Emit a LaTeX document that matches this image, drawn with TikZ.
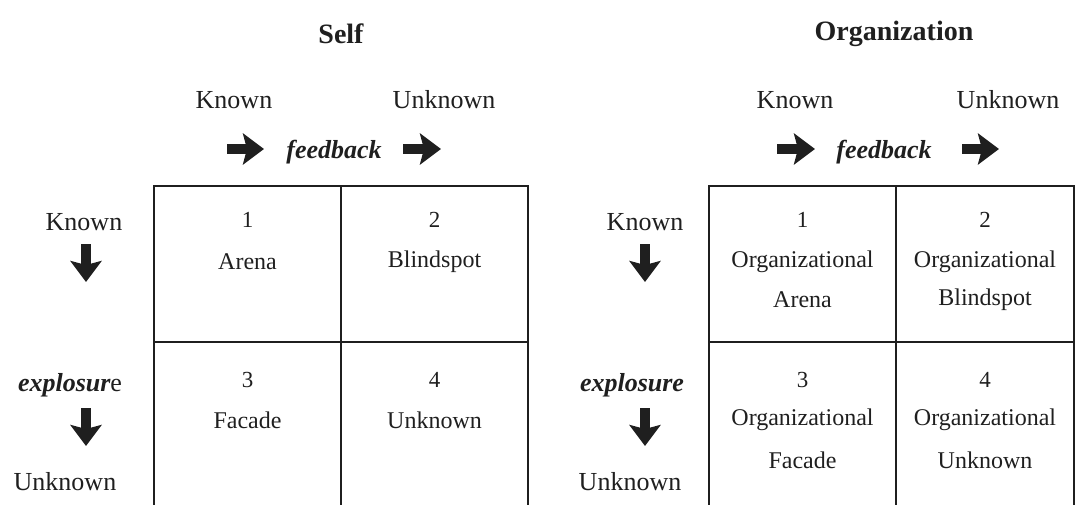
\documentclass[tikz,border=0pt]{standalone}
\usepackage{fontspec}
\setmainfont{Liberation Serif}
\usetikzlibrary{arrows.meta}

\begin{document}
\begin{tikzpicture}[x=1pt, y=-1pt, every node/.style={inner sep=0pt, text=black!88},
	box/.style={draw=black!88, line width=1.1pt, minimum width=187pt},
	toprow/.style={box, minimum height=156pt},
	lowrow/.style={box, minimum height=190pt},
	lbl/.style={font=\fontsize{26}{30}\selectfont},
	cell/.style={font=\fontsize{24}{28}\selectfont},
	num/.style={font=\fontsize{23}{27}\selectfont},
	head/.style={font=\fontsize{28}{32}\selectfont\bfseries},
	fb/.style={font=\fontsize{26}{30}\selectfont\bfseries\itshape},
	blk/.style={line width=10pt, draw=black!88, -{Stealth[length=21pt, width=31pt, inset=4pt]}}]
			\useasboundingbox (0,0) rectangle (1076,504);
			
			\node[toprow] (s1) at (247.5,264){};
			\node[toprow] (s2) at (434.5,264){};
			\node[lowrow] (s3) at (247.5,437){};
			\node[lowrow] (s4) at (434.5,437){};
			\node[toprow] (o1) at (802.5,264){};
			\node[toprow, minimum width=178pt] (o2) at (985,264){};
			\node[lowrow] (o3) at (802.5,437){};
			\node[lowrow, minimum width=178pt] (o4) at (985,437){};
			
			\node[head] (self) at (341,34){Self};
			\node[lbl] (sknown) at (234,100){Known};
			\node[lbl] (sunknown) at (444,100){Unknown};
			\node[fb] (sfeed) at (334,152){feedback};
			\coordinate (sa) at (227,149);
			\coordinate (sb) at (264,149);
			\coordinate (sc) at (403,149);
			\coordinate (sd) at (441,149);
			\draw[blk] (sa) -- (sb);
			\draw[blk] (sc) -- (sd);
			
			\node[lbl] (sleftk) at (84,222){Known};
			\node[fb] (sexp) at (70,385){explosur{\normalfont e}};
			\node[lbl] (sleftu) at (65,482){Unknown};
			\coordinate (sv1) at (86,244);
			\coordinate (sv2) at (86,282);
			\coordinate (sv3) at (86,408);
			\coordinate (sv4) at (86,446);
			\draw[blk] (sv1) -- (sv2);
			\draw[blk] (sv3) -- (sv4);
			
			\node[num] (sn1) at (247.5,220){1};
			\node[cell] (st1) at (247.5,262){Arena};
			\node[num] (sn2) at (434.5,220){2};
			\node[cell] (st2) at (434.5,262){Blindspot};
			\node[num] (sn3) at (247.5,380){3};
			\node[cell] (st3) at (247.5,420){Facade};
			\node[num] (sn4) at (434.5,380){4};
			\node[cell] (st4) at (434.5,420){Unknown};
			
			\node[head] (org) at (894,34){Organization};
			\node[lbl] (oknown) at (795,100){Known};
			\node[lbl] (ounknown) at (1008,100){Unknown};
			\node[fb] (ofeed) at (884,152){feedback};
			\coordinate (oa) at (777,149);
			\coordinate (ob) at (815,149);
			\coordinate (oc) at (962,149);
			\coordinate (od) at (999,149);
			\draw[blk] (oa) -- (ob);
			\draw[blk] (oc) -- (od);
			
			\node[lbl] (oleftk) at (645,222){Known};
			\node[fb] (oexp) at (632,385){explosure};
			\node[lbl] (oleftu) at (630,482){Unknown};
			\coordinate (ov1) at (645,244);
			\coordinate (ov2) at (645,282);
			\coordinate (ov3) at (645,408);
			\coordinate (ov4) at (645,446);
			\draw[blk] (ov1) -- (ov2);
			\draw[blk] (ov3) -- (ov4);
			
			\node[num] (on1) at (802.5,220){1};
			\node[cell] (ot1) at (802.5,262){Organizational};
			\node[cell] (ou1) at (802.5,300){Arena};
			\node[num] (on2) at (985,220){2};
			\node[cell] (ot2) at (985,262){Organizational};
			\node[cell] (ou2) at (985,300){Blindspot};
			\node[num] (on3) at (802.5,380){3};
			\node[cell] (ot3) at (802.5,420){Organizational};
			\node[cell] (ou3) at (802.5,460){Facade};
			\node[num] (on4) at (985,380){4};
			\node[cell] (ot4) at (985,420){Organizational};
			\node[cell] (ou4) at (985,460){Unknown};
			\end{tikzpicture}
\end{document}
